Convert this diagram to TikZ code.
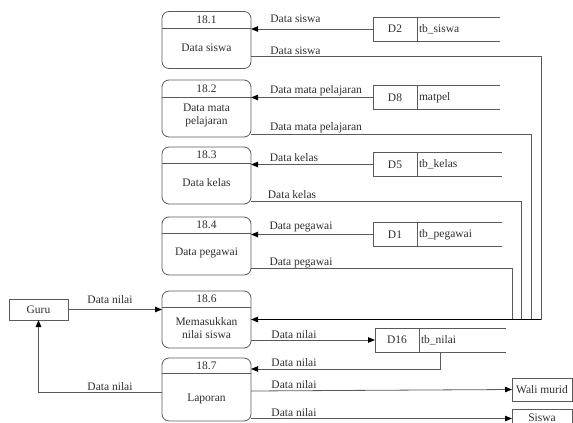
\documentclass[tikz,border=0pt]{standalone}
\usepackage{fontspec}
\setmainfont{Liberation Serif}
\usetikzlibrary{arrows.meta}
\definecolor{ln}{HTML}{5A5A5A}
\definecolor{tx}{HTML}{2E2E2E}
\begin{document}
\begin{tikzpicture}[x=1pt,y=-1pt,
  every node/.style={font=\fontsize{11.5}{12.5}\selectfont, text=tx, inner sep=0pt, outer sep=0pt},
  proc/.style={draw=ln, line width=0.8pt, rounded corners=7pt, minimum width=89pt},
  storeid/.style={draw=ln, line width=0.8pt, minimum width=44pt, minimum height=24pt},
  ext/.style={draw=ln, line width=0.8pt},
  flow/.style={draw=ln, line width=0.8pt},
  arr/.style={flow, -{Triangle[length=7pt,width=5.5pt,color=black]}},
]
\useasboundingbox (0,0) rectangle (573,423);
\clip (0,0) rectangle (573,423);

% processes
\node[proc, minimum height=57pt] (p1) at (206.5,40) {};
\draw[flow] (p1.west |- 0,28) -- (p1.east |- 0,28);
\node (n1) at (206.5,19.5) {18.1};
\node (t1) at (206.5,48) {Data siswa};

\node[proc, minimum height=57pt] (p2) at (206.5,108.5) {};
\draw[flow] (p2.west |- 0,97) -- (p2.east |- 0,97);
\node (n2) at (206.5,89) {18.2};
\node[align=center] (t2) at (206.5,115.5) {Data mata\\pelajaran};

\node[proc, minimum height=57pt] (p3) at (206.5,175.5) {};
\draw[flow] (p3.west |- 0,163) -- (p3.east |- 0,163);
\node (n3) at (206.5,155) {18.3};
\node (t3) at (206.5,183) {Data kelas};

\node[proc, minimum height=58pt] (p4) at (206.5,246) {};
\draw[flow] (p4.west |- 0,233) -- (p4.east |- 0,233);
\node (n4) at (206.5,225) {18.4};
\node (t4) at (206.5,253) {Data pegawai};

\node[proc, minimum height=57pt] (p6) at (206.5,319.5) {};
\draw[flow] (p6.west |- 0,307) -- (p6.east |- 0,307);
\node (n6) at (206.5,299) {18.6};
\node[align=center] (t6) at (206.5,328) {Memasukkan\\nilai siswa};

\node[proc, minimum height=63pt] (p7) at (206.5,389.5) {};
\draw[flow] (p7.west |- 0,373) -- (p7.east |- 0,373);
\node (n7) at (206.5,366) {18.7};
\node (t7) at (206.5,399) {Laporan};

% data stores
\node[storeid] (d2) at (395,29) {D2};
\draw[flow] (d2.north west) -- ++(127,0);
\draw[flow] (d2.south west) -- ++(127,0);
\node[anchor=west] (s2) at ([xshift=2pt]d2.east) {tb\_siswa};

\node[storeid] (d8) at (395,97.5) {D8};
\draw[flow] (d8.north west) -- ++(127,0);
\draw[flow] (d8.south west) -- ++(127,0);
\node[anchor=west] (s8) at ([xshift=2pt]d8.east) {matpel};

\node[storeid] (d5) at (395,164.5) {D5};
\draw[flow] (d5.north west) -- ++(129,0);
\draw[flow] (d5.south west) -- ++(129,0);
\node[anchor=west] (s5) at ([xshift=2pt]d5.east) {tb\_kelas};

\node[storeid] (d1) at (395,234.5) {D1};
\draw[flow] (d1.north west) -- ++(129,0);
\draw[flow] (d1.south west) -- ++(129,0);
\node[anchor=west] (s1) at ([xshift=2pt]d1.east) {tb\_pegawai};

\node[storeid] (d16) at (397,340) {D16};
\draw[flow] (d16.north west) -- ++(131,0);
\draw[flow] (d16.south west) -- ++(131,0);
\node[anchor=west] (s16) at ([xshift=2pt]d16.east) {tb\_nilai};

% external entities
\node[ext, minimum width=59pt, minimum height=21pt] (guru) at (38.5,309.5) {Guru};
\node[ext, minimum width=60pt, minimum height=23pt] (wali) at (542,389.5) {Wali murid};
\node[ext, minimum width=60pt, minimum height=18pt] (siswa) at (542,418) {Siswa};

% junction points
\coordinate (j1) at (541,319.5);
\coordinate (j2) at (531,319.5);
\coordinate (j3) at (521,319.5);
\coordinate (j4) at (512,319.5);
\coordinate (d16b) at (440,352);

% flows
\draw[arr] (d2.west) -- (p1.east |- d2.west);
\node (l1) at (295.5,19) {Data siswa};
\draw[flow] (p1.east |- 0,56) -| (j1);
\node (l2) at (295.5,51) {Data siswa};

\draw[arr] (d8.west) -- (p2.east |- d8.west);
\node (l3) at (316,91) {Data mata pelajaran};
\draw[flow] (p2.east |- 0,134) -| (j2);
\node (l4) at (316,128) {Data mata pelajaran};

\draw[arr] (d5.west) -- (p3.east |- d5.west);
\node (l5) at (294,158) {Data kelas};
\draw[flow] (p3.east |- 0,201) -| (j3);
\node (l6) at (292,195) {Data kelas};

\draw[arr] (d1.west) -- (p4.east |- d1.west);
\node (l7) at (301,227) {Data pegawai};
\draw[flow] (p4.east |- 0,268) -| (j4);
\node (l8) at (301,263) {Data pegawai};

\draw[arr, draw=black, line width=1.2pt] (j1) -- (p6.east);

\draw[arr] (guru.east) -- (p6.west |- guru.east);
\node (l9) at (110,300) {Data nilai};

\draw[arr] (p6.east |- d16.west) -- (d16.west);
\node (l10) at (294,335) {Data nilai};

\draw[arr] (d16b) |- (p7.east |- 0,369);
\node (l11) at (294,363) {Data nilai};

\draw[arr] (p7.west |- 0,392) -| (guru.south);
\node (l12) at (110,387) {Data nilai};

\draw[arr] (p7.east |- 0,391) -- (wali.west);
\node (l13) at (294,385) {Data nilai};

\draw[arr] (p7.east |- 0,418.5) -- (siswa.west |- 0,418.5);
\node (l14) at (294,413) {Data nilai};
\end{tikzpicture}
\end{document}
